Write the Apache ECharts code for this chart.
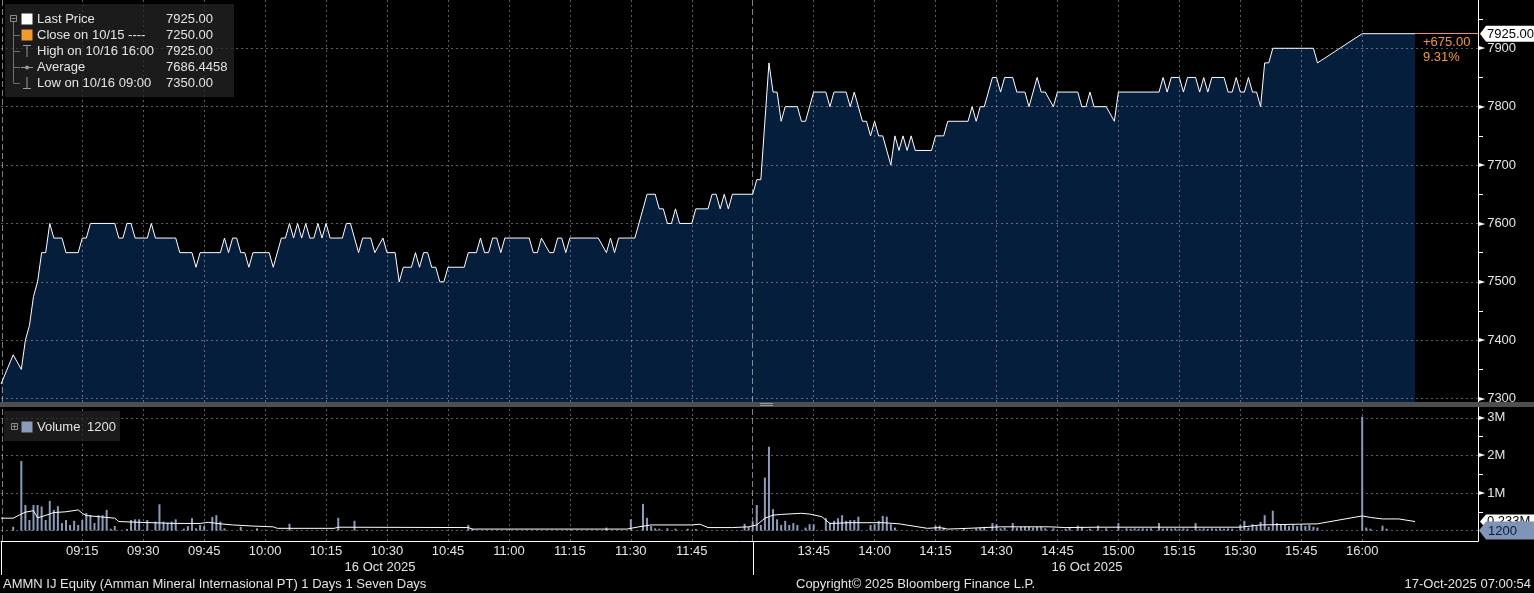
<!DOCTYPE html>
<html><head><meta charset="utf-8">
<script src="https://cdn.jsdelivr.net/npm/echarts@6/dist/echarts.min.js"></script>
<style>html,body{margin:0;padding:0;background:#000;overflow:hidden}#c{width:1534px;height:593px}</style>
</head><body><div id="c"></div>
<script>
// ---------------- DATA ----------------
const priceTimes = ['08:55','08:58','09:00','09:01','09:02','09:03','09:04','09:05','09:06','09:07','09:08','09:10','09:11','09:14','09:15','09:16','09:17','09:23','09:24','09:25','09:26','09:27','09:28','09:31','09:32','09:33','09:38','09:39','09:42','09:43','09:44','09:49','09:50','09:51','09:52','09:53','09:54','09:55','09:56','09:57','10:01','10:02','10:04','10:05','10:06','10:07','10:08','10:09','10:10','10:11','10:12','10:13','10:14','10:15','10:16','10:19','10:20','10:21','10:23','10:24','10:26','10:27','10:29','10:30','10:32','10:33','10:34','10:36','10:37','10:38','10:39','10:40','10:41','10:42','10:43','10:44','10:45','10:49','10:50','10:52','10:53','10:54','10:55','10:56','10:57','10:58','10:59','11:05','11:06','11:07','11:08','11:10','11:11','11:12','11:13','11:14','11:15','11:22','11:24','11:25','11:26','11:27','11:31','11:34','11:36','11:37','11:38','11:39','11:40','11:41','11:42','11:45','11:46','11:49','11:50','11:51','11:52','11:53','11:54','11:55','12:00','13:31','13:32','13:34','13:35','13:36','13:37','13:38','13:41','13:42','13:43','13:45','13:48','13:49','13:50','13:53','13:54','13:55','13:57','13:58','13:59','14:00','14:01','14:02','14:04','14:05','14:06','14:07','14:08','14:09','14:10','14:14','14:15','14:17','14:18','14:23','14:24','14:25','14:26','14:27','14:29','14:30','14:31','14:32','14:34','14:35','14:37','14:38','14:40','14:41','14:42','14:44','14:45','14:50','14:51','14:52','14:53','14:54','14:57','14:59','15:00','15:10','15:11','15:12','15:13','15:15','15:16','15:17','15:19','15:20','15:21','15:22','15:23','15:26','15:27','15:28','15:29','15:30','15:31','15:32','15:33','15:34','15:35','15:36','15:37','15:38','15:48','15:49','16:00','16:13'];
const priceValues = [7325,7375,7350,7400,7425,7475,7500,7550,7550,7600,7575,7575,7550,7550,7575,7575,7600,7600,7575,7575,7600,7600,7575,7575,7600,7575,7575,7550,7550,7525,7550,7550,7575,7550,7575,7575,7550,7550,7525,7550,7550,7525,7575,7575,7600,7575,7600,7575,7600,7575,7575,7600,7575,7600,7575,7575,7600,7600,7550,7575,7575,7550,7575,7550,7550,7500,7525,7525,7550,7525,7550,7550,7525,7525,7500,7500,7525,7525,7550,7550,7575,7550,7550,7575,7575,7550,7575,7575,7550,7550,7575,7550,7550,7575,7575,7550,7575,7575,7550,7575,7550,7575,7575,7650,7650,7625,7625,7600,7600,7625,7600,7600,7625,7625,7650,7650,7625,7650,7625,7650,7650,7675,7675,7875,7825,7825,7775,7800,7800,7775,7775,7825,7825,7800,7825,7825,7800,7825,7775,7775,7750,7775,7750,7750,7700,7750,7725,7750,7725,7750,7725,7725,7750,7750,7775,7775,7800,7775,7800,7800,7850,7850,7825,7850,7850,7825,7825,7800,7850,7825,7825,7800,7825,7825,7800,7800,7825,7800,7800,7775,7825,7825,7850,7825,7850,7850,7825,7850,7850,7825,7850,7825,7850,7850,7825,7825,7850,7825,7825,7850,7825,7825,7800,7875,7875,7900,7900,7875,7925,7925];

const volumeTimes = ['08:58','09:00','09:01','09:02','09:03','09:04','09:05','09:06','09:07','09:08','09:09','09:10','09:11','09:12','09:13','09:14','09:15','09:16','09:17','09:18','09:19','09:20','09:21','09:22','09:23','09:26','09:27','09:28','09:29','09:31','09:33','09:34','09:35','09:36','09:37','09:38','09:40','09:41','09:42','09:43','09:44','09:45','09:47','09:48','09:49','09:50','09:54','09:58','10:06','10:18','10:22','10:25','10:50','10:51','11:24','11:30','11:33','11:34','11:35','11:36','11:37','11:39','11:41','11:44','11:46','11:58','11:59','12:00','13:31','13:32','13:33','13:34','13:35','13:36','13:37','13:38','13:39','13:40','13:41','13:43','13:44','13:45','13:48','13:49','13:50','13:51','13:52','13:53','13:54','13:55','13:56','13:59','14:00','14:01','14:02','14:03','14:04','14:05','14:15','14:16','14:17','14:22','14:25','14:26','14:27','14:29','14:30','14:31','14:32','14:34','14:35','14:36','14:37','14:38','14:39','14:40','14:41','14:42','14:44','14:47','14:48','14:50','14:51','14:53','14:55','14:57','15:00','15:02','15:03','15:04','15:05','15:06','15:07','15:08','15:10','15:11','15:12','15:13','15:14','15:15','15:16','15:17','15:19','15:20','15:21','15:22','15:23','15:24','15:25','15:26','15:27','15:28','15:30','15:31','15:32','15:33','15:34','15:35','15:36','15:37','15:38','15:39','15:40','15:41','15:42','15:43','15:44','15:45','15:46','15:47','15:48','15:49','16:00','16:01','16:02','16:05','16:06'];
// volumes in millions of shares
const volumeValuesM = [0.10,1.85,0.68,0.28,0.68,0.68,0.64,0.28,0.79,0.55,0.65,0.20,0.28,0.15,0.26,0.15,0.28,0.47,0.41,0.20,0.41,0.41,0.55,0.05,0.12,0.04,0.28,0.30,0.30,0.28,0.24,0.70,0.24,0.21,0.24,0.30,0.05,0.12,0.33,0.06,0.15,0.12,0.36,0.41,0.24,0.06,0.10,0.06,0.18,0.34,0.26,0.03,0.15,0.05,0.08,0.30,0.71,0.34,0.12,0.06,0.05,0.06,0.05,0.05,0.04,0.18,0.10,0.24,0.68,0.15,1.41,2.23,0.57,0.30,0.15,0.26,0.15,0.20,0.15,0.08,0.17,0.17,0.33,0.21,0.26,0.33,0.41,0.26,0.28,0.28,0.37,0.15,0.17,0.26,0.39,0.37,0.17,0.08,0.13,0.13,0.08,0.04,0.06,0.08,0.10,0.20,0.17,0.06,0.08,0.20,0.08,0.10,0.10,0.10,0.08,0.10,0.10,0.06,0.06,0.05,0.08,0.13,0.10,0.05,0.13,0.06,0.20,0.06,0.05,0.06,0.05,0.06,0.05,0.06,0.20,0.05,0.06,0.05,0.06,0.05,0.06,0.05,0.20,0.05,0.06,0.05,0.06,0.05,0.06,0.05,0.06,0.05,0.15,0.26,0.08,0.17,0.12,0.23,0.41,0.10,0.53,0.20,0.15,0.15,0.12,0.15,0.12,0.15,0.12,0.15,0.10,0.08,3.03,0.08,0.05,0.13,0.05];

const volumeAvgTimes = ['08:55','08:58','09:00','09:01','09:03','09:04','09:05','09:07','09:08','09:11','09:14','09:15','09:16','09:19','09:23','09:24','09:29','09:38','09:44','09:46','09:49','09:52','09:57','10:02','10:03','10:17','10:18','10:50','10:51','11:29','11:32','11:35','11:45','11:47','11:49','11:55','11:59','13:31','13:33','13:35','13:37','13:42','13:44','13:47','13:49','13:54','14:02','14:06','14:13','14:16','14:18','14:23','14:31','14:43','14:47','14:55','15:30','15:35','15:49','16:00','16:02','16:05','16:09','16:13'];
const volumeAvgValuesM = [0.33,0.33,0.44,0.49,0.53,0.34,0.37,0.44,0.48,0.50,0.55,0.46,0.40,0.37,0.33,0.24,0.22,0.19,0.19,0.22,0.18,0.15,0.12,0.10,0.06,0.06,0.09,0.08,0.04,0.04,0.10,0.15,0.15,0.17,0.08,0.08,0.10,0.15,0.33,0.41,0.43,0.46,0.44,0.37,0.19,0.21,0.21,0.18,0.06,0.08,0.04,0.06,0.10,0.10,0.08,0.09,0.09,0.15,0.18,0.39,0.35,0.31,0.31,0.24];

const timeTickLabels = ['09:15','09:30','09:45','10:00','10:15','10:30','10:45','11:00','11:15','11:30','11:45','13:45','14:00','14:15','14:30','14:45','15:00','15:15','15:30','15:45','16:00'];
const priceTickLabels = [7300,7400,7500,7600,7700,7800,7900];
const priceMinorTicks = [7350,7450,7550,7650,7750,7850,7950];
const volumeTickLabels = [1,2,3];
const volumeMinorTicks = [0.5,1.5,2.5];

const lastPrice = 7925.00, prevClose = 7250.00, highPrice = 7925.00, lowPrice = 7350.00, averagePrice = 7686.4458;
const lastVolume = 1200;
const volumeAvgLabel = '0.233M';

// ---------------- HELPERS ----------------
// lunch break 12:00-13:30 collapsed on the time axis
function toX(s){const p=s.split(':').map(Number);let t=p[0]*60+p[1];if(t>=13*60+30)t-=90;return t;}
function fromX(v){let t=Math.round(v);if(t>720)t+=90;const h=Math.floor(t/60),m=t%60;return String(h).padStart(2,'0')+':'+String(m).padStart(2,'0');}
const X_MIN = toX('08:55'), X_MAX = toX('16:28')+0.5;
const FONT = '"Liberation Sans", Arial, sans-serif';
const TXT = '#e4e4e4';
const ORANGE = '#f39a2c';
const VOLC = '#8a9cbb';

const priceData = priceTimes.map((t,i)=>[toX(t),priceValues[i]]);
const volData = volumeTimes.map((t,i)=>[toX(t),volumeValuesM[i]]);
const volAvgData = volumeAvgTimes.map((t,i)=>[toX(t),volumeAvgValuesM[i]]);

const gridLine = {color:'rgba(255,255,255,0.36)',type:[2,3],width:1};
const breakLine = {color:'rgba(210,210,210,0.6)',type:[6,3],width:1};
function gridMarks(hVals){
  return [].concat(
    hVals.map(v=>({yAxis:v,lineStyle:gridLine})),
    timeTickLabels.map(t=>({xAxis:toX(t),lineStyle:gridLine})),
    [{xAxis:toX('12:00'),lineStyle:breakLine},{xAxis:X_MIN+0.3,lineStyle:breakLine}]
  );
}
const mlBase = {symbol:['none','none'],silent:true,animation:false,label:{show:false},emphasis:{disabled:true}};

const chart = echarts.init(document.getElementById('c'));
chart.setOption({
  backgroundColor:'#000',
  animation:false,
  grid:[{left:1,right:56,top:0,height:402},{left:1,right:56,top:407,height:134}],
  xAxis:[
    {gridIndex:0,type:'value',min:X_MIN,max:X_MAX,axisLine:{show:false},axisTick:{show:false},axisLabel:{show:false},splitLine:{show:false}},
    {gridIndex:1,type:'value',min:X_MIN,max:X_MAX,axisLine:{show:true,onZero:false,lineStyle:{color:'#ffffff',width:1}},axisTick:{show:false},splitLine:{show:false},
     axisLabel:{customValues:timeTickLabels.map(toX),formatter:v=>fromX(v),color:TXT,fontSize:13,fontFamily:FONT,margin:4}}
  ],
  yAxis:[
    {gridIndex:0,type:'value',position:'right',min:7294.2,max:7982.7,splitLine:{show:false},
     axisLine:{show:true,lineStyle:{color:'#ffffff',width:1}},
     axisTick:{show:true,customValues:priceMinorTicks,length:5,lineStyle:{color:'#ffffff'}},
     axisLabel:{customValues:priceTickLabels,formatter:v=>'{a|►}'+v,color:TXT,fontSize:13,fontFamily:FONT,margin:1,
       rich:{a:{fontSize:8,color:'#ffffff',fontFamily:'DejaVu Sans',padding:[0,2,0,0]}}}},
    {gridIndex:1,type:'value',position:'right',min:-0.277,max:3.287,splitLine:{show:false},
     axisLine:{show:true,lineStyle:{color:'#ffffff',width:1}},
     axisTick:{show:true,customValues:volumeMinorTicks,length:5,lineStyle:{color:'#ffffff'}},
     axisLabel:{customValues:volumeTickLabels,formatter:v=>'{a|►}'+v+'M',color:TXT,fontSize:13,fontFamily:FONT,margin:1,
       rich:{a:{fontSize:8,color:'#ffffff',fontFamily:'DejaVu Sans',padding:[0,2,0,0]}}}}
  ],
  series:[
    {name:'area',type:'line',xAxisIndex:0,yAxisIndex:0,data:priceData,symbol:'none',z:1,silent:true,
     lineStyle:{width:0,opacity:0},areaStyle:{color:'#041e3b',opacity:1,origin:'start'},
     markLine:Object.assign({},mlBase,{data:gridMarks(priceTickLabels)})},
    {name:'Last Price',type:'line',xAxisIndex:0,yAxisIndex:0,data:priceData,symbol:'none',z:10,silent:true,
     lineStyle:{color:'#ffffff',width:1},
     markLine:Object.assign({},mlBase,{data:[[{coord:[toX(priceTimes[priceTimes.length-1]),lastPrice]},{coord:[X_MAX,lastPrice]}]],
       lineStyle:{color:ORANGE,type:'solid',width:1}})},
    {name:'Volume',type:'bar',xAxisIndex:1,yAxisIndex:1,data:volData,barWidth:2,z:10,silent:true,
     itemStyle:{color:VOLC},
     markLine:Object.assign({},mlBase,{data:gridMarks([0,1,2,3])})},
    {name:'VolAvg',type:'line',xAxisIndex:1,yAxisIndex:1,data:volAvgData,symbol:'none',z:11,silent:true,
     lineStyle:{color:'#ffffff',width:1}}
  ]
});

// ---------------- DECORATIONS ----------------
const P = (gi,x,v)=>chart.convertToPixel({xAxisIndex:gi,yAxisIndex:gi},[x,v]);
const g = [];
function T(x,y,text,o){o=o||{};g.push({type:'text',z:50,x:x,y:y,style:{text:text,fill:o.fill||TXT,font:(o.size||13)+'px '+FONT,align:o.align||'left',verticalAlign:'middle'}});}
function L(x1,y1,x2,y2,c,w){g.push({type:'line',z:50,shape:{x1,y1,x2,y2},style:{stroke:c||'#888',lineWidth:w||1}});}
function R(x,y,w,h,fill,stroke){g.push({type:'rect',z:49,shape:{x,y,width:w,height:h},style:{fill:fill||'none',stroke:stroke||null,lineWidth:1}});}

// separator between panes
g.push({type:'rect',z:60,shape:{x:0,y:402,width:1534,height:5},style:{fill:'#4e4e4e'}});
L(760,403.5,773,403.5,'#9a9a9a');L(760,405.5,773,405.5,'#9a9a9a');
g[g.length-1].z=61;g[g.length-2].z=61;

// price legend
R(5,4,229,93,'rgba(38,38,38,0.72)');
R(10.5,15.5,6,6,null,'#8a8a8a');L(11.5,18.5,15.5,18.5,'#8a8a8a');
L(13.5,22,13.5,83,'#6e6e6e');
[35,51,67,83].forEach(y=>L(13.5,y+0.5,20,y+0.5,'#6e6e6e'));
R(21.5,13.5,11,11,'#ffffff');
R(21.5,29.5,11,11,ORANGE);
L(23,45.5,31,45.5,'#9a9a9a');L(27,45.5,27,57,'#9a9a9a');
L(21,67.5,33,67.5,'#9a9a9a');g.push({type:'circle',z:51,shape:{cx:27,cy:67.5,r:2},style:{fill:'#9a9a9a'}});
L(27,77,27,88.5,'#9a9a9a');L(23,88.5,31,88.5,'#9a9a9a');
const rows=[['Last Price',lastPrice.toFixed(2)],['Close on 10/15 ----',prevClose.toFixed(2)],['High on 10/16 16:00',highPrice.toFixed(2)],['Average',averagePrice.toFixed(4)],['Low on 10/16 09:00',lowPrice.toFixed(2)]];
rows.forEach((r,i)=>{T(37,19+16*i,r[0]);T(166,19+16*i,r[1]);});

// volume legend
R(4,411,116,30,'rgba(38,38,38,0.72)');
R(11.5,423.5,6,6,null,'#8a8a8a');L(12.5,426.5,16.5,426.5,'#8a8a8a');L(14.5,424.5,14.5,428.5,'#8a8a8a');
R(21.5,421.5,11,11,VOLC);
T(37,427,'Volume');T(87,427,String(lastVolume));

// last price box + change labels
const lp = P(0,toX(priceTimes[priceTimes.length-1]),lastPrice);
const ax = P(0,X_MAX,lastPrice)[0];
g.push({type:'polygon',z:55,shape:{points:[[ax+2,lp[1]],[ax+8,lp[1]-8],[1534,lp[1]-8],[1534,lp[1]+8],[ax+8,lp[1]+8]]},style:{fill:'#ffffff'}});
T(ax+9,lp[1]+0.5,lastPrice.toFixed(2),{fill:'#000000'});g[g.length-1].z=56;
T(lp[0]+8,lp[1]+9,'+'+(lastPrice-prevClose).toFixed(2),{fill:ORANGE});
T(lp[0]+8,lp[1]+24,((lastPrice-prevClose)/prevClose*100).toFixed(2)+'%',{fill:ORANGE});

// volume right labels
const va = P(1,X_MAX,volumeAvgValuesM[volumeAvgValuesM.length-1]);
g.push({type:'polygon',z:55,shape:{points:[[ax+2,va[1]],[ax+8,va[1]-7],[1534,va[1]-7],[1534,va[1]+7],[ax+8,va[1]+7]]},style:{fill:'#ffffff'}});
T(ax+9,va[1],volumeAvgLabel,{fill:'#000000'});g[g.length-1].z=56;
const vl = P(1,X_MAX,lastVolume/1e6);
g.push({type:'polygon',z:57,shape:{points:[[ax+1,vl[1]],[ax+8,vl[1]-9],[1534,vl[1]-9],[1534,vl[1]+9],[ax+8,vl[1]+9]]},style:{fill:'#7f94b8'}});
T(ax+10,vl[1]+0.5,String(lastVolume),{fill:'#0d1a33'});g[g.length-1].z=58;

// session separators below the time axis
const xb = P(1,toX('12:00'),0)[0], x0 = P(1,X_MIN,0)[0];
L(Math.round(xb)+0.5,541,Math.round(xb)+0.5,575,'#ffffff');
L(1.5,541,1.5,575,'#ffffff');

// date labels & footer
T(380,567,'16 Oct 2025',{align:'center'});
T(1087,567,'16 Oct 2025',{align:'center'});
T(3,584,'AMMN IJ Equity (Amman Mineral Internasional PT) 1 Days 1 Seven Days');
T(796,584,'Copyright\u00A9 2025 Bloomberg Finance L.P.');
T(1531,584,'17-Oct-2025 07:00:54',{align:'right'});

chart.setOption({graphic:g});
</script></body></html>
